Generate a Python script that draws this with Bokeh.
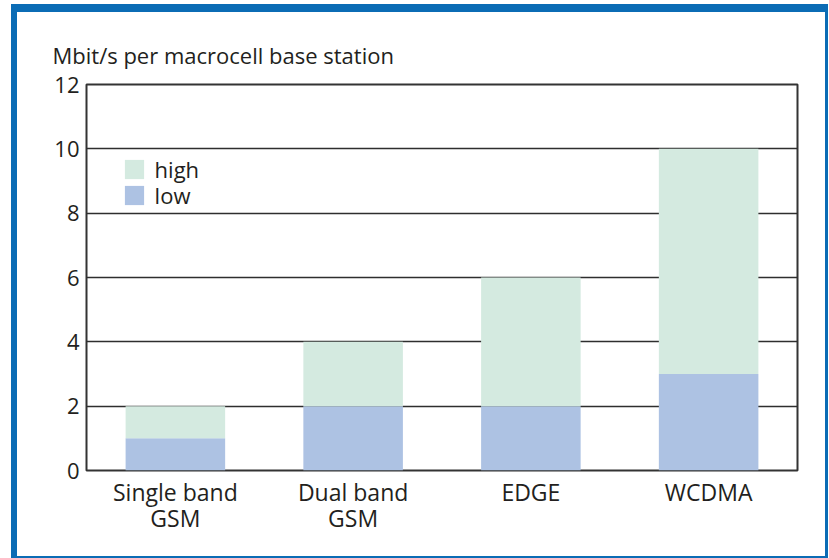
from bokeh.plotting import figure
from bokeh.models import Range1d, FixedTicker, Legend, LegendItem, ColumnDataSource
from bokeh.embed import file_html
from bokeh.resources import INLINE

categories = ["Single band\nGSM", "Dual band\nGSM", "EDGE", "WCDMA"]
low = [1, 2, 2, 3]
total = [2, 4, 6, 10]
high = [t - l for t, l in zip(total, low)]
y_ticks = [0, 2, 4, 6, 8, 10, 12]
title_text = "Mbit/s per macrocell base station"

FONT = "Open Sans"
TXT = "#231f20"
HIGH_C = "#d4eae0"
LOW_C = "#adc2e3"
BLUE = "#0b6cb5"

source = ColumnDataSource(dict(cat=categories, low=low, high=high))

p = figure(x_range=categories, y_range=Range1d(0, 12), width=808, height=544,
           output_backend="svg", toolbar_location=None,
           min_border_left=69, min_border_right=37, min_border_top=72, min_border_bottom=96)
p.margin = (4, 0, 0, 11)
p.styles = {"border-style": "solid", "border-color": BLUE,
            "border-width": "8px 3px 2px 6px", "box-sizing": "content-box"}

rs = p.vbar_stack(["low", "high"], x="cat", width=0.56, source=source,
                  color=[LOW_C, HIGH_C], line_color=None)

p.title.text = title_text
p.title.align = "left"
p.title.offset = -34
p.title.standoff = 29
p.title.text_font = FONT
p.title.text_font_size = "22px"
p.title.text_font_style = "normal"
p.title.text_color = TXT

p.outline_line_color = "#333333"
p.outline_line_width = 2
p.xgrid.grid_line_color = None
p.ygrid.grid_line_color = "#2e2e2e"
p.ygrid.grid_line_width = 1.7
p.ygrid.ticker = FixedTicker(ticks=y_ticks)

p.yaxis.ticker = FixedTicker(ticks=y_ticks)
for ax in (p.xaxis, p.yaxis):
    ax.axis_line_color = None
    ax.major_tick_line_color = None
    ax.minor_tick_line_color = None
    ax.major_tick_out = 0
    ax.major_tick_in = 0
    ax.major_label_text_font = FONT
    ax.major_label_text_font_size = "22px"
    ax.major_label_text_color = TXT
p.xaxis.major_label_text_font_size = "23px"
p.xaxis.major_label_text_line_height = 0.83
p.yaxis.major_label_standoff = 7
p.xaxis.major_label_standoff = 5

legend_style = dict(padding=0, margin=0, border_line_color=None,
                    background_fill_alpha=0, glyph_width=24, glyph_height=24,
                    label_height=24, spacing=0, label_standoff=9,
                    label_text_font=FONT, label_text_font_size="22px", label_text_color=TXT)
p.add_layout(Legend(items=[LegendItem(label="high", renderers=[rs[1]])],
                    location=(35.6, 286), **legend_style))
p.add_layout(Legend(items=[LegendItem(label="low", renderers=[rs[0]])],
                    location=(35.6, 260), **legend_style))

open("out.html", "w").write(file_html(p, INLINE))
